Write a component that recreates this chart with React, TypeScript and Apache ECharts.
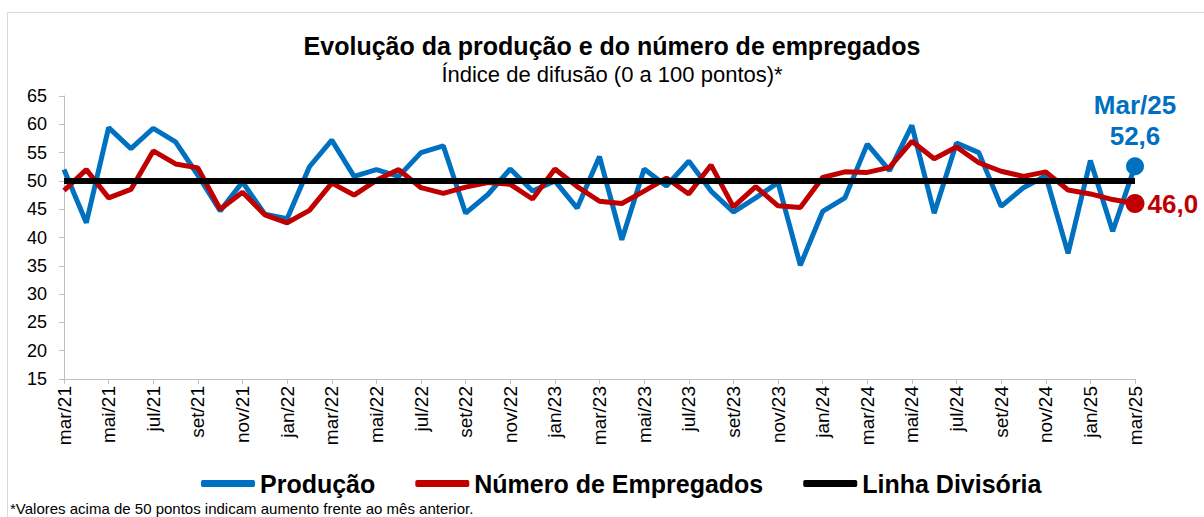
import React, { useEffect, useRef } from "react";
import * as echarts from "echarts";

const CATEGORIES = [
  "mar/21", "abr/21", "mai/21", "jun/21", "jul/21", "ago/21", "set/21", "out/21", "nov/21", "dez/21",
  "jan/22", "fev/22", "mar/22", "abr/22", "mai/22", "jun/22", "jul/22", "ago/22", "set/22", "out/22", "nov/22", "dez/22",
  "jan/23", "fev/23", "mar/23", "abr/23", "mai/23", "jun/23", "jul/23", "ago/23", "set/23", "out/23", "nov/23", "dez/23",
  "jan/24", "fev/24", "mar/24", "abr/24", "mai/24", "jun/24", "jul/24", "ago/24", "set/24", "out/24", "nov/24", "dez/24",
  "jan/25", "fev/25", "mar/25",
];

const PRODUCAO = [
  52.0, 42.6, 59.4, 55.7, 59.3, 56.9, 51.0, 44.7, 49.8, 44.1,
  43.3, 52.5, 57.2, 50.8, 52.0, 50.8, 55.0, 56.2, 44.3, 47.6, 52.1, 48.2,
  50.0, 45.2, 54.3, 39.6, 52.1, 49.1, 53.5, 48.2, 44.5, 47.0, 49.7, 35.1,
  44.6, 47.0, 56.5, 51.8, 59.8, 44.3, 56.7, 55.0, 45.5, 48.8, 50.9, 37.2,
  53.6, 41.1, 52.6,
];

const EMPREGADOS = [
  48.3, 52.0, 47.0, 48.5, 55.3, 53.0, 52.3, 45.0, 48.0, 44.0,
  42.6, 44.8, 49.6, 47.5, 50.1, 52.0, 48.8, 47.8, 48.9, 49.7, 49.4, 46.8,
  52.1, 49.0, 46.4, 46.0, 48.2, 50.5, 47.7, 52.8, 45.4, 49.0, 45.6, 45.3,
  50.6, 51.6, 51.5, 52.4, 57.0, 53.9, 56.0, 53.2, 51.7, 50.8, 51.6, 48.4,
  47.7, 46.7, 46.0,
];

const LINHA_DIVISORIA = 50;

const Y_MIN = 15;
const Y_MAX = 65;
const Y_INTERVAL = 5;

const TITLE = "Evolução da produção e do número de empregados";
const SUBTITLE = "Índice de difusão (0 a 100 pontos)*";
const FOOTNOTE = "*Valores acima de 50 pontos indicam aumento frente ao mês anterior.";

const BLUE = "#0070C0";
const RED = "#C00000";
const BLACK = "#000000";
const FONT = "Arial, 'Liberation Sans', sans-serif";

const fmt = (v: number) => v.toFixed(1).replace(".", ",");

export default function App() {
  const ref = useRef<HTMLDivElement>(null);

  useEffect(() => {
    document.body.style.margin = "0";
    if (!ref.current) return;
    const chart = echarts.init(ref.current, undefined, { renderer: "svg" });
    const last = CATEGORIES.length - 1;
    const lastMonth = CATEGORIES[last];
    const lastLabel = lastMonth.charAt(0).toUpperCase() + lastMonth.slice(1);

    chart.setOption({
      animation: false,
      backgroundColor: "#ffffff",
      textStyle: { fontFamily: FONT },
      graphic: [
        {
          type: "rect",
          shape: { x: 7.5, y: 12.5, width: 1400, height: 700 },
          style: { fill: "none", stroke: "#d9d9d9", lineWidth: 1 },
          silent: true,
        },
        {
          type: "text",
          x: 612,
          y: 46,
          style: {
            text: TITLE,
            fontFamily: FONT,
            fontSize: 25,
            fontWeight: "bold",
            fill: "#000",
            textAlign: "center",
            textVerticalAlign: "middle",
          },
        },
        {
          type: "text",
          x: 612,
          y: 74,
          style: {
            text: SUBTITLE,
            fontFamily: FONT,
            fontSize: 22,
            fill: "#000",
            textAlign: "center",
            textVerticalAlign: "middle",
          },
        },
        {
          type: "text",
          x: 10,
          y: 508,
          style: {
            text: FOOTNOTE,
            fontFamily: FONT,
            fontSize: 15,
            fill: "#000",
            textAlign: "left",
            textVerticalAlign: "middle",
          },
        },
      ],
      legend: {
        data: ["Produção", "Número de Empregados", "Linha Divisória"],
        left: 196,
        top: 466,
        icon: "roundRect",
        itemWidth: 54,
        itemHeight: 7,
        itemGap: 40,
        textStyle: { fontFamily: FONT, fontSize: 25, fontWeight: "bold", color: "#000" },
      },
      grid: { left: 64, right: 69, top: 96, bottom: 138, containLabel: false },
      xAxis: {
        type: "category",
        data: CATEGORIES,
        boundaryGap: false,
        axisLine: { lineStyle: { color: "#bfbfbf", width: 1 } },
        axisTick: { show: true, interval: 1, length: 5, lineStyle: { color: "#bfbfbf" } },
        axisLabel: {
          interval: 1,
          rotate: 90,
          fontSize: 19,
          color: "#000",
          fontFamily: FONT,
          margin: 7,
        },
        splitLine: { show: false },
      },
      yAxis: {
        type: "value",
        min: Y_MIN,
        max: Y_MAX,
        interval: Y_INTERVAL,
        axisLine: { show: true, lineStyle: { color: "#bfbfbf", width: 1 } },
        axisTick: { show: true, length: 5, lineStyle: { color: "#bfbfbf" } },
        axisLabel: { fontSize: 18, color: "#000", fontFamily: FONT, margin: 17 },
        splitLine: { show: false },
      },
      series: [
        {
          name: "Produção",
          type: "line",
          data: PRODUCAO,
          symbol: "none",
          lineStyle: { color: BLUE, width: 5 },
          itemStyle: { color: BLUE },
          z: 2,
        },
        {
          name: "Número de Empregados",
          type: "line",
          data: EMPREGADOS,
          symbol: "none",
          lineStyle: { color: RED, width: 5 },
          itemStyle: { color: RED },
          z: 3,
        },
        {
          name: "Linha Divisória",
          type: "line",
          data: CATEGORIES.map(() => LINHA_DIVISORIA),
          symbol: "none",
          lineStyle: { color: BLACK, width: 6 },
          itemStyle: { color: BLACK },
          z: 4,
        },
        {
          name: "ultimo-producao",
          type: "scatter",
          data: [[lastMonth, PRODUCAO[last]]],
          symbol: "circle",
          symbolSize: 18,
          itemStyle: { color: BLUE, opacity: 1 },
          z: 5,
          label: {
            show: true,
            position: "top",
            distance: 6,
            formatter: () => `${lastLabel}\n${fmt(PRODUCAO[last])}`,
            color: BLUE,
            fontFamily: FONT,
            fontSize: 26,
            fontWeight: "bold",
            lineHeight: 31,
            align: "center",
            opacity: 1,
          },
        },
        {
          name: "ultimo-empregados",
          type: "scatter",
          data: [[lastMonth, EMPREGADOS[last]]],
          symbol: "circle",
          symbolSize: 19,
          itemStyle: { color: RED, opacity: 1 },
          z: 5,
          label: {
            show: true,
            position: "right",
            distance: 3,
            formatter: () => fmt(EMPREGADOS[last]),
            color: RED,
            fontFamily: FONT,
            fontSize: 26,
            fontWeight: "bold",
            opacity: 1,
          },
        },
      ],
    });

    return () => chart.dispose();
  }, []);

  return <div ref={ref} style={{ width: 1204, height: 517 }} />;
}
